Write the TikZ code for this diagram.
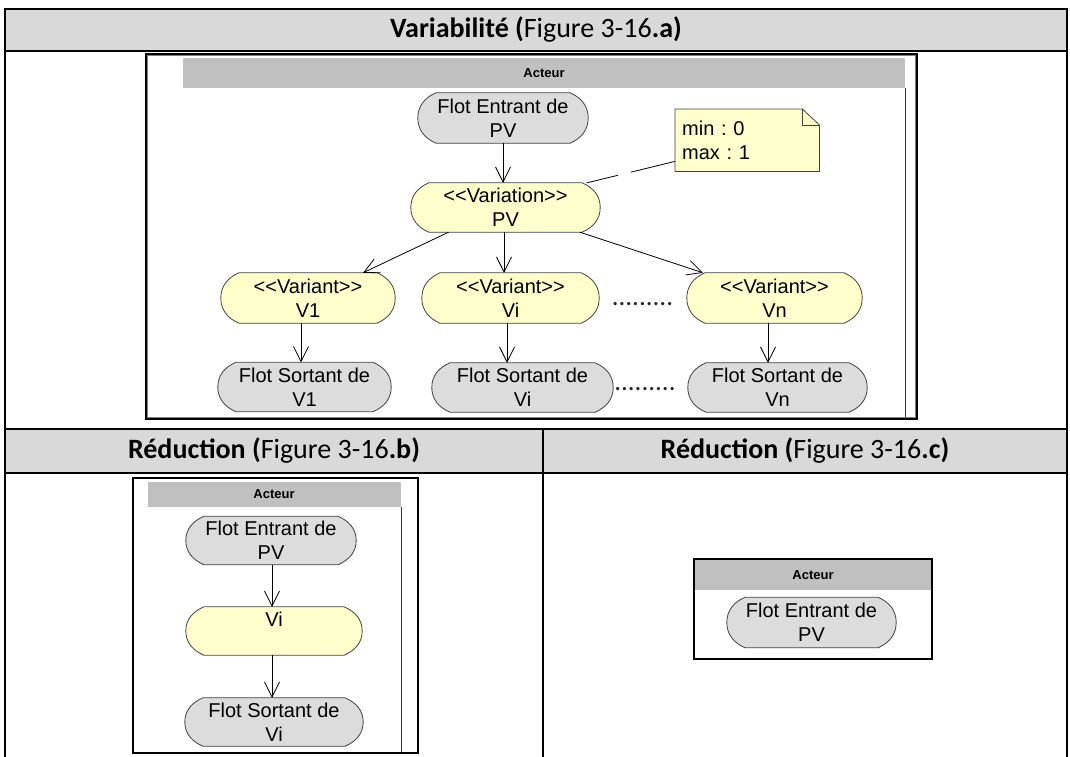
\documentclass[tikz,border=0pt]{standalone}
\usepackage{fontspec}
\setmainfont{Liberation Sans}
\newfontfamily\hdrfont{Carlito}
\usetikzlibrary{arrows.meta,backgrounds}
\definecolor{hdrgray}{HTML}{D9D9D9}
\definecolor{bandgray}{HTML}{C0C0C0}
\definecolor{nodegray}{HTML}{DCDCDC}
\definecolor{nodeyellow}{HTML}{FFFFCC}
\definecolor{edgegray}{HTML}{404040}
\frenchspacing
\newcommand\stadiumshape[3]{%
  \filldraw[fill=#2, draw=edgegray, line width=0.8pt]
   ([xshift=#3]#1.north west) -- ([xshift=-#3]#1.north east)
   to[out=-24,in=90] (#1.east) to[out=-90,in=24] ([xshift=-#3]#1.south east)
   -- ([xshift=#3]#1.south west) to[out=156,in=-90] (#1.west) to[out=90,in=204] cycle;}
\begin{document}
\begin{tikzpicture}[x=1pt,y=-1pt,
  tbl/.style={line width=2pt,black},
  hdrtext/.style={font=\hdrfont\fontsize{28}{32}\selectfont},
  boxframe/.style={line width=2pt,black},
  boxinner/.style={line width=1pt,gray},
  band/.style={fill=bandgray},
  lane/.style={line width=0.8pt,black!80},
  acteur/.style={font=\bfseries\fontsize{13}{15}\selectfont},
  flow/.style={rectangle, inner sep=0pt, align=center, font=\fontsize{20}{24}\selectfont},
  arr/.style={-{Straight Barb[length=15pt,width=15pt]}, line width=0.8pt},
  notetext/.style={align=left, text width=130pt, inner xsep=7pt, inner ysep=0pt, minimum height=62pt,
    font=\fontsize{20}{24}\selectfont},
  notelink/.style={line width=0.8pt, dash pattern=on 32pt off 13pt on 200pt off 1pt},
  dots/.style={font=\hdrfont\fontsize{27}{30}\selectfont, inner sep=0pt, text=black!85}
]
\useasboundingbox (0,0) rectangle (1070,757);

% ---------- table ----------
\fill[hdrgray] (5,9) rectangle (1067,51);
\fill[hdrgray] (5,429) rectangle (1067,473);
\draw[tbl] (5,757) -- (5,9) -- (1067,9) -- (1067,757);
\draw[tbl] (5,51) -- (1067,51);
\draw[tbl] (5,429) -- (1067,429);
\draw[tbl] (5,473) -- (1067,473);
\draw[tbl] (543,429) -- (543,757);

\node[hdrtext] (h1) at (536,30) {\textbf{Variabilité (}Figure 3-16\textbf{.a)}};
\node[hdrtext] (h2) at (274,451) {\textbf{Réduction (}Figure 3-16\textbf{.b)}};
\node[hdrtext] (h3) at (805,451) {\textbf{Réduction (}Figure 3-16\textbf{.c)}};

% ---------- figure a ----------
\fill[band] (183,58) rectangle (905,88);
\node[acteur] (acta) at (544,73) {Acteur};
\draw[lane] (905,88) -- (905,419);
\draw[boxinner] (147.5,55.5) rectangle (915.5,417.5);
\draw[boxframe] (146,54) rectangle (917,419);

\node[flow, minimum width=170pt, minimum height=50pt] (fe) at (503,118) {Flot Entrant de\\PV};
\node[flow, minimum width=189pt, minimum height=49pt] (var) at (505.5,207.5) {<{}<Variation>{}>\\PV};
\node[flow, minimum width=174pt, minimum height=50pt] (v1) at (308,298) {<{}<Variant>{}>\\V1};
\node[flow, minimum width=177pt, minimum height=50pt] (vi) at (510.5,298) {<{}<Variant>{}>\\Vi};
\node[flow, minimum width=175pt, minimum height=50pt] (vn) at (774.5,298) {<{}<Variant>{}>\\Vn};
\node[flow, minimum width=173pt, minimum height=49pt] (fs1) at (304.5,387) {Flot Sortant de\\V1};
\node[flow, minimum width=181pt, minimum height=49pt] (fsi) at (522.5,387.5) {Flot Sortant de\\Vi};
\node[flow, minimum width=179pt, minimum height=49pt] (fsn) at (777.5,387.5) {Flot Sortant de\\Vn};

\node[dots, anchor=base] (dots1) at (642.5,305.5) {.........};
\node[dots, anchor=base] (dots2) at (645,390.5) {.........};

\node[notetext, anchor=north west] (note) at (675,109) {min : 0\\max : 1};

% ---------- figure b ----------
\fill[band] (148,482) rectangle (401,507);
\node[acteur] (actb) at (274,494.5) {Acteur};
\draw[lane] (401,507) -- (401,752);
\draw[boxframe] (133,478) rectangle (418,753);

\node[flow, minimum width=170pt, minimum height=48pt] (feb) at (271,540.5) {Flot Entrant de\\PV};
\node[flow, minimum width=176pt, minimum height=48pt] (vib) at (274,631) {Vi\\\phantom{Vi}};
\node[flow, minimum width=178pt, minimum height=48pt] (fsb) at (274,722) {Flot Sortant de\\Vi};

% ---------- figure c ----------
\fill[band] (695,560) rectangle (931,590);
\node[acteur] (actc) at (813,575) {Acteur};
\draw[boxframe] (694,559) rectangle (932,659);
\node[flow, minimum width=169pt, minimum height=50pt] (fec) at (811.5,622.5) {Flot Entrant de\\PV};

% ---------- shapes behind the texts ----------
\begin{scope}[on background layer]
  \foreach \n/\c in {fe/nodegray, var/nodeyellow, v1/nodeyellow, vi/nodeyellow, vn/nodeyellow,
      fs1/nodegray, fsi/nodegray, fsn/nodegray, feb/nodegray, vib/nodeyellow, fsb/nodegray, fec/nodegray}
    {\stadiumshape{\n}{\c}{18pt}}
  \filldraw[fill=nodeyellow, draw=edgegray, line width=0.8pt]
    (note.north west) -- ([xshift=-17pt]note.north east) -- ([yshift=-16pt]note.north east)
    -- (note.south east) -- (note.south west) -- cycle;
  \draw[edgegray, line width=0.8pt] ([xshift=-17pt]note.north east) -- ([xshift=-17pt,yshift=-16pt]note.north east)
    -- ([yshift=-16pt]note.north east);
\end{scope}

% ---------- connectors ----------
\draw[arr] ([xshift=-2.5pt]var.north |- fe.south) -- ([xshift=-2.5pt]var.north);
\draw[arr] ([xshift=-57pt]var.south) -- ([xshift=55pt]v1.north);
\draw[arr] ([xshift=-1.5pt]var.south) -- ([xshift=-1.5pt]var.south |- vi.north);
\draw[arr] ([xshift=74.5pt]var.south) -- ([xshift=-71.5pt]vn.north);
\draw[arr] ([xshift=-7pt]v1.south) -- ([xshift=-7pt]v1.south |- fs1.north);
\draw[arr] ([xshift=-3.5pt]vi.south) -- ([xshift=-3.5pt]vi.south |- fsi.north);
\draw[arr] ([xshift=-6.5pt]vn.south) -- ([xshift=-6.5pt]vn.south |- fsn.north);
\draw[notelink] ([xshift=81.5pt]var.north) -- ([yshift=10pt]note.south west);
\draw[arr] ([xshift=1pt]feb.south) -- ([xshift=1pt]feb.south |- vib.north);
\draw[arr] ([xshift=-2pt]vib.south) -- ([xshift=-2pt]vib.south |- fsb.north);
\end{tikzpicture}
\end{document}
